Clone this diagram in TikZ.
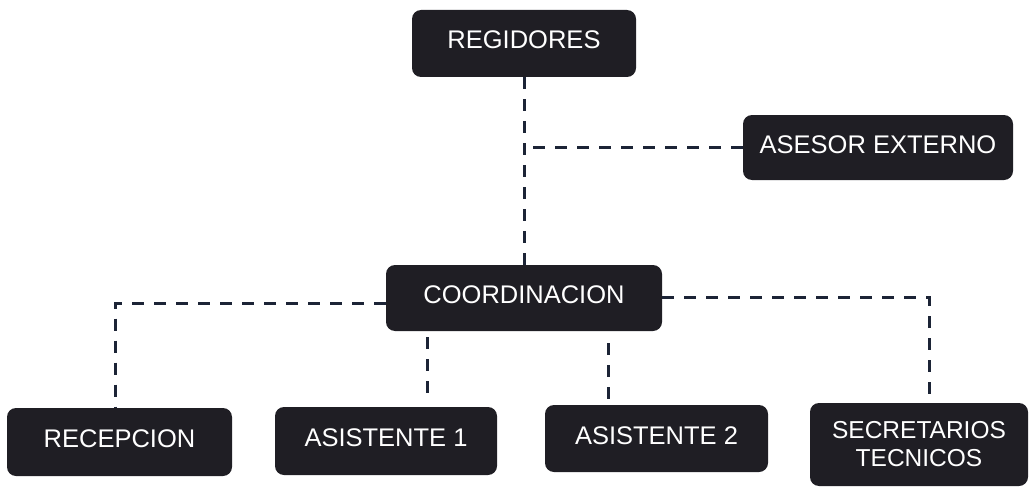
\documentclass[tikz,border=0pt]{standalone}
\usepackage{fontspec}
\setmainfont{Liberation Sans}
\usetikzlibrary{calc}
\definecolor{boxfill}{HTML}{1F1E24}
\definecolor{linecol}{HTML}{1C2436}
\tikzset{
  orgbox/.style={draw=none, fill=boxfill, rounded corners=9pt, text=white,
    font=\fontsize{25.5}{29}\selectfont, align=center, inner sep=0pt,
    minimum width=#1},
  orgbox/.default=222pt,
  oneline/.style={text height=18pt, text depth=7pt},
  conn/.style={draw=linecol, line width=3pt, dash pattern=on 12pt off 10pt}
}
\begin{document}
\begin{tikzpicture}[x=1pt,y=-1pt]
\useasboundingbox (0,0) rectangle (1034,487);
\node[orgbox=224pt, oneline, minimum height=67pt] (reg) at (524,43.5) {REGIDORES};
\node[orgbox=270pt, oneline, minimum height=65pt] (ases) at (878,147.5) {ASESOR EXTERNO};
\node[orgbox=276pt, oneline, minimum height=66pt] (coord) at (524,298) {COORDINACION};
\node[orgbox=225pt, oneline, minimum height=68pt] (rec) at (119.5,442) {RECEPCION};
\node[orgbox=222pt, oneline, minimum height=68pt] (a1) at (386,441) {ASISTENTE 1};
\node[orgbox=223pt, oneline, minimum height=67pt] (a2) at (656.5,438.5) {ASISTENTE 2};
\node[orgbox=218pt, minimum height=83pt, font=\fontsize{24.5}{28}\selectfont] (sec) at (919,444.5) {SECRETARIOS\\TECNICOS};
% connectors
\draw[conn] (reg.south) -- (reg.south |- coord.north);
\coordinate (jn) at (reg.south |- ases.west);
\draw[conn] (ases.west) -- (jn);
\draw[conn] ([yshift=-5pt]coord.west) -| ([xshift=-4pt]rec.north);
\draw[conn] ([yshift=1pt]coord.east) -| ([xshift=10pt]sec.north);
\draw[conn, shorten <=6pt, shorten >=10pt] ([xshift=41pt]a1.north |- coord.south) -- ([xshift=41pt]a1.north);
\draw[conn, shorten <=12pt, shorten >=6pt] ([xshift=-48pt]a2.north |- coord.south) -- ([xshift=-48pt]a2.north);
\end{tikzpicture}
\end{document}
